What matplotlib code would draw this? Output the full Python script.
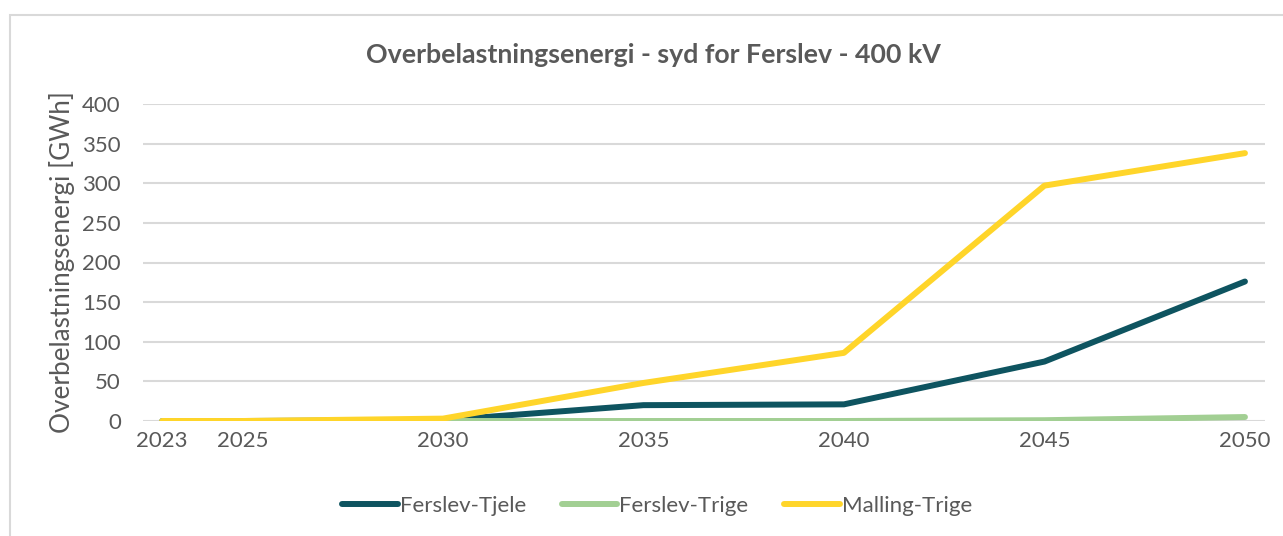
import matplotlib
matplotlib.use("Agg")
import matplotlib.pyplot as plt
from matplotlib.patches import Rectangle

years = [2023, 2025, 2030, 2035, 2040, 2045, 2050]
ferslev_tjele = [0, 0, 1, 20, 21, 75, 176]
ferslev_trige = [0, 0, 0, 0, 0, 1, 5]
malling_trige = [0, 0, 3, 48, 86, 297, 338]
series_names = ["Ferslev-Tjele", "Ferslev-Trige", "Malling-Trige"]
colors = ["#0E5460", "#A2CF93", "#FFD52A"]
title = "Overbelastningsenergi - syd for Ferslev - 400 kV"
ylabel = "Overbelastningsenergi [GWh]"
yticks = [0, 50, 100, 150, 200, 250, 300, 350, 400]

plt.rcParams['font.family'] = ['Lato', 'DejaVu Sans']
txt = "#595959"

W, H = 1283, 536
fig = plt.figure(figsize=(W/100, H/100), dpi=100)
fig.patches.append(Rectangle((10/W, -0.1), 1.2, (H-15)/H + 0.1, transform=fig.transFigure,
                             fill=False, edgecolor="#D9D9D9", linewidth=1.5))

ax = fig.add_axes([143/W, (H-421)/H, (1265-143)/W, (421-104)/H])
for vals, name, c in zip([ferslev_tjele, ferslev_trige, malling_trige], series_names, colors):
    ax.plot(years, vals, color=c, linewidth=4.3, solid_capstyle='round',
            solid_joinstyle='round', label=name)

ax.set_xlim(2022.52, 2050.5)
ax.set_ylim(0, 400)
ax.set_yticks(yticks)
ax.set_xticks(years)
ax.set_xticklabels([str(y) for y in years])
ax.grid(axis='y', color="#D9D9D9", linewidth=1.5)
ax.set_axisbelow(True)
for s in ax.spines.values():
    s.set_visible(False)
ax.tick_params(length=0, labelsize=16, labelcolor=txt, pad=7)
ax.tick_params(axis='y', pad=16)
ax.set_ylabel(ylabel, fontsize=18.8, color=txt)
ax.yaxis.set_label_coords((62-143)/(1265-143), 0.5)
ax.yaxis.label.set_va('center')

fig.text(653/W, (H-55)/H, title, ha='center', va='center', fontsize=19.3, fontweight='bold', color=txt)

leg = ax.legend(loc='center', bbox_to_anchor=(657/W, (H-506)/H), bbox_transform=fig.transFigure,
                ncol=3, frameon=False, fontsize=16, handlelength=2.5, handletextpad=0.1,
                columnspacing=1.6)
for t in leg.get_texts():
    t.set_color(txt)

fig.savefig("out.png", dpi=100)
